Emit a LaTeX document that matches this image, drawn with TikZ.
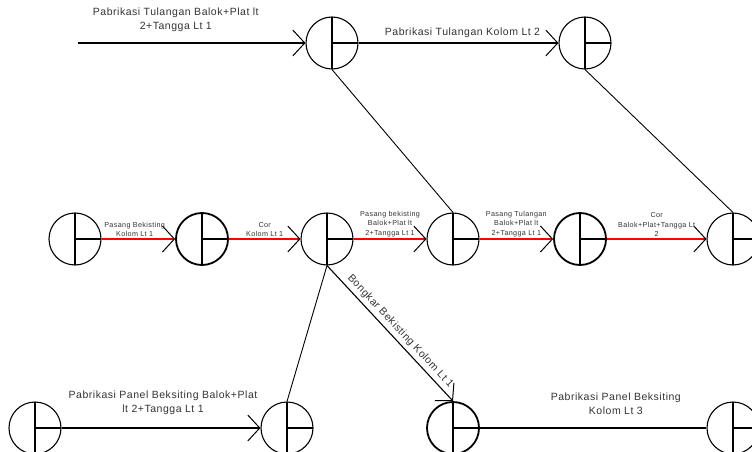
\documentclass[tikz,border=0pt]{standalone}
\usepackage{fontspec}
\setmainfont{Liberation Sans}[LetterSpace=5]
\usetikzlibrary{arrows.meta}
\begin{document}
\begin{tikzpicture}[x=1pt,y=-1pt]
\useasboundingbox (0,0) rectangle (752,452);
\tikzstyle{ev}=[draw,shape=circle,minimum size=52pt,inner sep=0pt,line width=1.1pt,
  path picture={\draw[line width=1.1pt] (path picture bounding box.north)--(path picture bounding box.south)
  (path picture bounding box.center)--(path picture bounding box.east);}];
\tikzstyle{lbl}=[draw=none,text=black!80,align=center,font=\fontsize{10.5}{14}\selectfont,inner sep=2pt];
\tikzstyle{sml}=[draw=none,text=black!80,align=center,font=\fontsize{7.2}{9.5}\selectfont,inner sep=1.5pt];
\tikzstyle{tip}=[-{Straight Barb[length=12pt,width=26pt,line width=1pt,color=black]}];
\node[ev] (1) at (332,43) {};
\node[ev] (2) at (585,43) {};
\node[ev] (3) at (75,239) {};
\node[ev,line width=1.8pt] (4) at (202,239) {};
\node[ev] (5) at (327,239) {};
\node[ev] (6) at (453,239) {};
\node[ev,line width=1.8pt] (7) at (580,239) {};
\node[ev] (8) at (733,239) {};
\node[ev] (9) at (35,428) {};
\node[ev] (10) at (287,428) {};
\node[ev,line width=1.8pt] (11) at (453,428) {};
\node[ev] (12) at (733,428) {};
\coordinate (s) at (78,43);
% fabrication, top and bottom
\draw[line width=1.1pt,tip] (s) -- node[lbl,above,pos=0.43,yshift=9pt]{Pabrikasi Tulangan Balok+Plat lt\\2+Tangga Lt 1} (1);
\draw[line width=1.1pt,tip] (1) -- node[lbl,above,pos=0.52,yshift=3pt]{Pabrikasi Tulangan Kolom Lt 2} (2);
\draw[line width=1.1pt,tip] (9) -- node[lbl,above,pos=0.51,yshift=11pt]{Pabrikasi Panel Beksiting Balok+Plat\\lt 2+Tangga Lt 1} (10);
\draw[line width=1.1pt] (11) -- node[lbl,above,pos=0.6,yshift=11pt]{Pabrikasi Panel Beksiting\\Kolom Lt 3} (12);
% column and slab works
\draw[draw=red,line width=1.3pt,tip] (3) -- node[sml,above,pos=0.45]{Pasang Bekisting\\Kolom Lt 1} (4);
\draw[draw=red,line width=1.3pt,tip] (4) -- node[sml,above]{Cor\\Kolom Lt 1} (5);
\draw[draw=red,line width=1.3pt,tip] (5) -- node[sml,above]{Pasang bekisting\\Balok+Plat lt\\2+Tangga Lt 1} (6);
\draw[draw=red,line width=1.3pt,tip] (6) -- node[sml,above]{Pasang Tulangan\\Balok+Plat lt\\2+Tangga Lt 1} (7);
\draw[draw=red,line width=1.3pt,tip] (7) -- node[sml,above]{Cor\\Balok+Plat+Tangga Lt\\2} (8);
% links
\draw[line width=0.9pt] (1.south) -- (6.north)
(2.south) -- (8.north)
(5.south) -- (10.north);
\draw[line width=1.1pt,tip] (5.south) -- node[lbl,sloped,above,pos=0.53,inner sep=3.5pt]{Bongkar Bekisting Kolom Lt 1} (11.north);
\end{tikzpicture}
\end{document}
